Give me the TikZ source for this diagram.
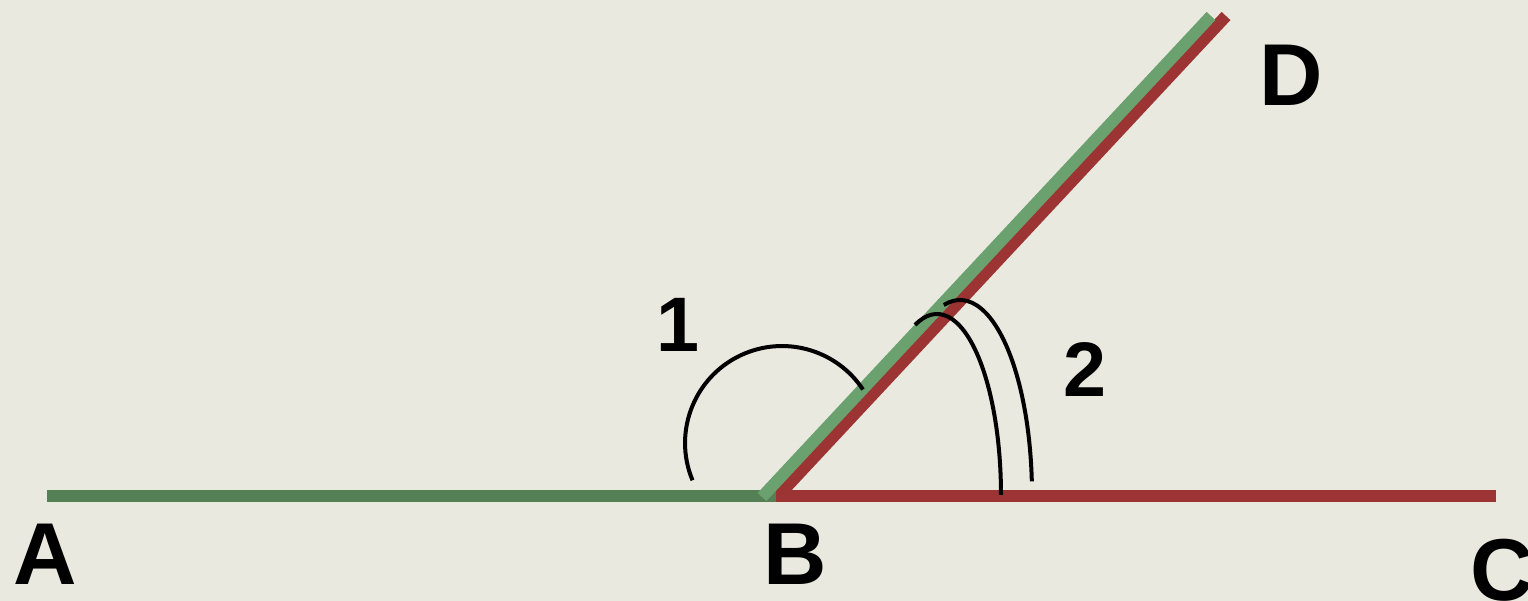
\documentclass[tikz,border=0pt]{standalone}
\usepackage{fontspec}
\setmainfont{Liberation Sans}
\usetikzlibrary{calc}
\definecolor{bgpaper}{HTML}{E9E9DF}
\definecolor{darkgreen}{HTML}{557F55}
\definecolor{lightgreen}{HTML}{6BA06F}
\definecolor{rayred}{HTML}{9C3434}

\begin{document}
\begin{tikzpicture}[x=0.02cm,y=0.02cm,
    ptlabel/.style={inner sep=0,font=\fontsize{50}{60}\selectfont\bfseries},
    numlabel/.style={inner sep=0,font=\fontsize{44}{52}\selectfont\bfseries},
    ray/.style={line width=0.24cm},
    anglearc/.style={line width=0.08cm}]
      \fill[bgpaper] (0,0) rectangle (1528,-601);
      \useasboundingbox (0,0) rectangle (1528,-601);
      % end points of the rays
      \coordinate (a) at (47,-496);
      \coordinate (b) at (776,-496);
      \coordinate (c) at (1496,-496);
      \coordinate (g1) at (762,-497);
      \coordinate (g2) at (1211,-16);
      \coordinate (r1) at (778,-496);
      \coordinate (r2) at (1226,-16);
      \draw[ray,rayred] (r1)--(r2);
      \draw[ray,darkgreen] (a)--(b);
      \draw[ray,rayred] (b)--(c);
      \draw[ray,lightgreen] (g1)--(g2);
      % angle marks
      \draw[anglearc] (692.5,-480.3) arc[start angle=202.6,end angle=33.5,radius=97];
      \draw[anglearc] (915.1,-324.9) arc[start angle=110,end angle=0,x radius=64,y radius=181];
      \draw[anglearc] (943.8,-305) arc[start angle=103,end angle=4,x radius=72,y radius=195];
      \node[ptlabel] (A) at (45,-554) {A};
      \node[ptlabel] (B) at (795,-554) {B};
      \node[ptlabel] (C) at (1502,-570) {C};
      \node[ptlabel] (D) at (1291,-75) {D};
      \node[numlabel] (n1) at (678,-325) {1};
      \node[numlabel] (n2) at (1085,-370) {2};
    \end{tikzpicture}
\end{document}
